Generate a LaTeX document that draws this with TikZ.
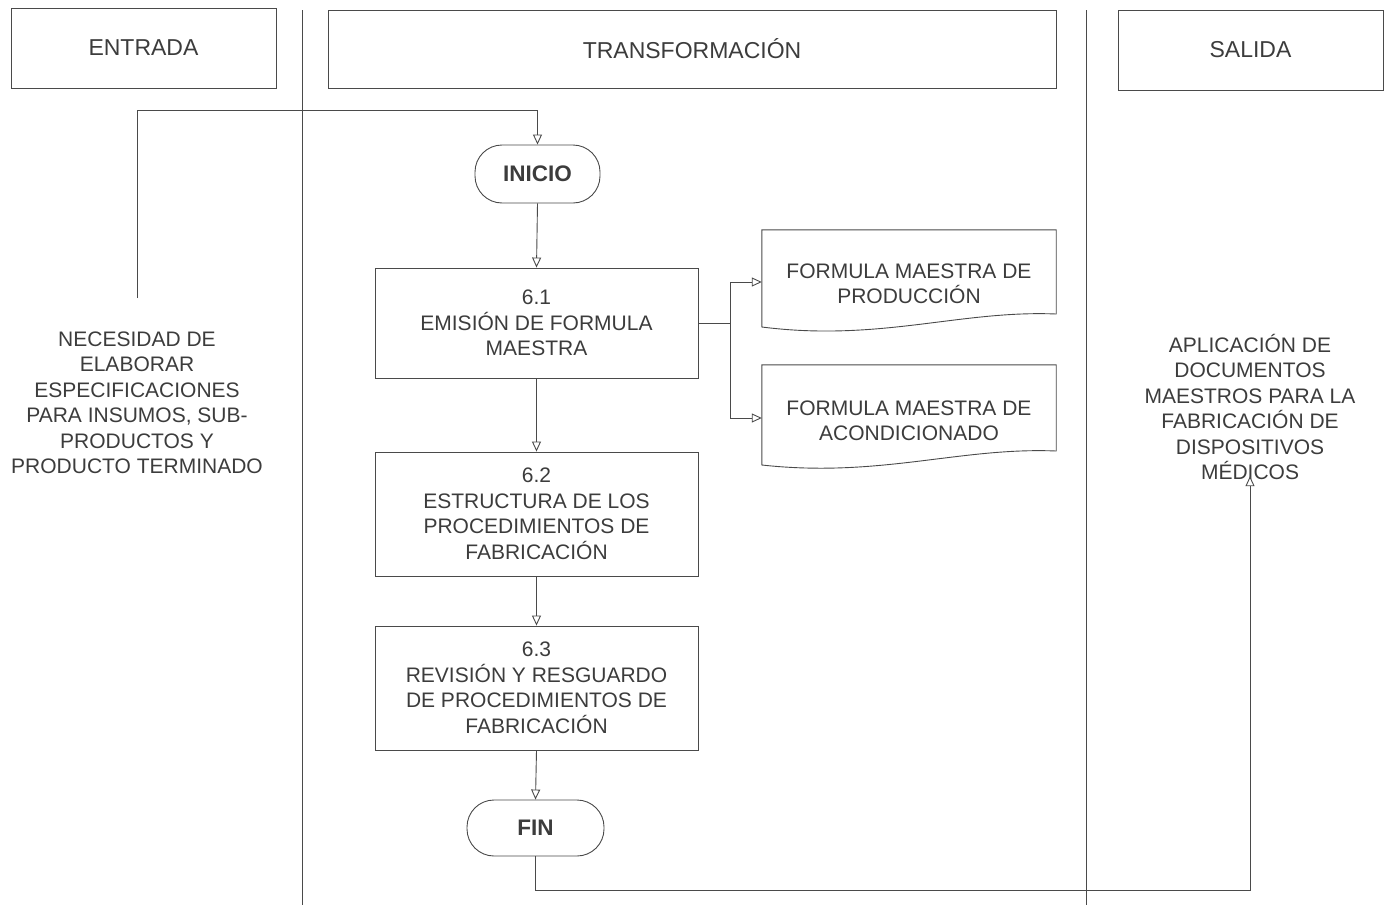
\documentclass[tikz,border=0pt]{standalone}
\usepackage{fontspec}
\setmainfont{Liberation Sans}
\usetikzlibrary{arrows.meta}
\definecolor{ink}{HTML}{4A4A4A}
\definecolor{txt}{HTML}{3C3C3C}
\tikzset{
  ln/.style={draw=ink, line width=0.9pt},
  arr/.style={ln, -{Triangle[open,length=10pt,width=9pt]}},
  hdr/.style={ln, rectangle, text=txt, font=\fontsize{23}{27}\selectfont, inner sep=0pt},
  proc/.style={ln, rectangle, text=txt, align=center, minimum width=323pt, font=\fontsize{21}{25.5}\selectfont, inner sep=0pt},
  term/.style={ln, rectangle, rounded corners=27pt, text=txt, font=\bfseries\fontsize{22.5}{26}\selectfont, inner sep=0pt},
  plain/.style={text=txt, align=center, font=\fontsize{21}{25.5}\selectfont, inner sep=0pt},
  docarea/.style={rectangle, minimum width=294pt, inner sep=0pt},
  doctxt/.style={text=txt, align=center, font=\fontsize{21}{25.5}\selectfont, inner sep=0pt}
}
\begin{document}
\begin{tikzpicture}[x=1pt,y=-1pt]
\useasboundingbox (0,0) rectangle (1385,905);
% headers
\node[hdr, minimum width=265pt, minimum height=80pt] (hin) at (143.5,48) {ENTRADA};
\node[hdr, minimum width=728pt, minimum height=78pt] (htr) at (692,49) {TRANSFORMACIÓN};
\node[hdr, minimum width=265pt, minimum height=80pt] (hout) at (1250.5,50) {SALIDA};
% lane separators
\draw[ln] (302,10) -- (302,905);
\draw[ln] (1086,10) -- (1086,905);
% input / output texts
\node[plain] (intxt) at (137,403) {NECESIDAD DE\\ELABORAR\\ESPECIFICACIONES\\PARA INSUMOS, SUB-\\PRODUCTOS Y\\PRODUCTO TERMINADO};
\node[plain] (outtxt) at (1250,407) {APLICACIÓN DE\\DOCUMENTOS\\MAESTROS PARA LA\\FABRICACIÓN DE\\DISPOSITIVOS\\MÉDICOS};
% flow
\node[term, minimum width=125pt, minimum height=58pt] (inicio) at (537.5,174) {INICIO};
\node[proc, minimum height=110pt] (p1) at (536.5,323) {6.1\\EMISIÓN DE FORMULA\\MAESTRA};
\node[proc, minimum height=124pt] (p2) at (536.5,514) {6.2\\ESTRUCTURA DE LOS\\PROCEDIMIENTOS DE\\FABRICACIÓN};
\node[proc, minimum height=124pt] (p3) at (536.5,688) {6.3\\REVISIÓN Y RESGUARDO\\DE PROCEDIMIENTOS DE\\FABRICACIÓN};
\node[term, minimum width=137pt, minimum height=56pt] (fin) at (535.5,828) {FIN};
% documents
\node[docarea, minimum height=104pt] (d1) at (909,282) {};
\node[doctxt] (d1t) at (909,284) {FORMULA MAESTRA DE\\PRODUCCIÓN};
\draw[ln] (d1.west |- 0,316) -- (d1.north west) -- (d1.north east) -- (d1.east |- 0,314)
  .. controls (960,310) and (880,342) .. (d1.west |- 0,327) -- cycle;
\node[docarea, minimum height=106pt] (d2) at (909,418) {};
\node[doctxt] (d2t) at (909,421) {FORMULA MAESTRA DE\\ACONDICIONADO};
\draw[ln] (d2.west |- 0,450) -- (d2.north west) -- (d2.north east) -- (d2.east |- 0,451)
  .. controls (960,447) and (880,478) .. (d2.west |- 0,465) -- cycle;
% connectors
\coordinate (inStart) at (137,298);
\coordinate (inBend) at (137,110);
\draw[arr] (inStart) -- (inBend) -| (inicio.north);
\draw[arr] (inicio.south) -- (p1.north);
\draw[arr] (p1.south) -- (p2.north);
\draw[arr] (p2.south) -- (p3.north);
\draw[arr] (p3.south) -- (fin.north);
\coordinate (br) at (730,323);
\draw[ln] (p1.east) -- (br);
\draw[arr] (br) |- (d1.west);
\draw[arr] (br) |- (d2.west);
\coordinate (outBend) at (535.5,890);
\draw[arr] (fin.south) -- (outBend) -| ([yshift=4pt]outtxt.south);
\end{tikzpicture}
\end{document}
